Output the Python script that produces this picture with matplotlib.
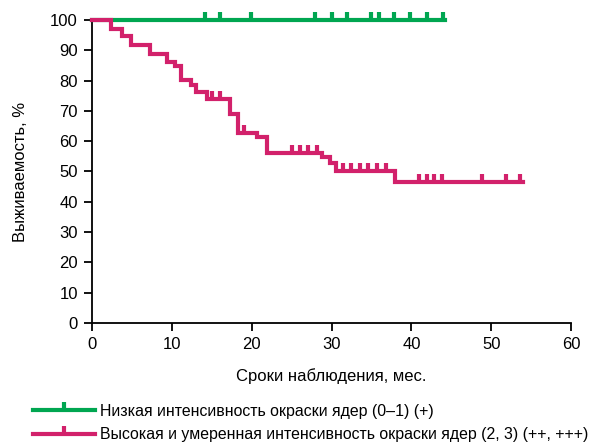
import matplotlib.pyplot as plt
import numpy as np

from   matplotlib.lines import Line2D

plt.rcParams["font.family"] = ["Liberation Sans", "DejaVu Sans"]

GREEN = "#00a651"
PINK  = "#d2216b"

# Низкая интенсивность: no events, only censored cases
low_times  = [0, 44.2]
low_levels = [100, 100]
low_cens   = [14.2, 16.1, 19.9, 27.9, 30.0, 31.9, 34.9, 36.0, 37.8, 39.8, 41.9, 43.9]

# Высокая и умеренная интенсивность: step times and survival after each step
high_times  = [0, 2.4, 3.8, 4.9, 7.3, 9.4, 10.4, 11.2, 12.4, 13.1, 14.4,
               17.3, 18.3, 20.7, 21.9, 28.8, 29.8, 30.6, 38.0]
high_levels = [100, 97.1, 94.8, 91.8, 88.8, 86.0, 84.8, 80.2, 78.4, 76.3, 73.8,
               69.1, 62.6, 61.4, 56.0, 54.8, 52.9, 50.0, 46.4]
high_end    = 54.0
high_cens   = [15.0, 16.1, 19.1, 25.0, 26.1, 27.1, 28.2,
               31.5, 32.5, 33.6, 34.6, 35.7, 36.8,
               40.9, 41.9, 42.8, 43.8, 48.8, 51.8, 53.6]

LABELS = [
    "Низкая интенсивность окраски ядер (0–1) (+)",
    "Высокая и умеренная интенсивность окраски ядер (2, 3) (++, +++)",
]

X_TICKS = [0, 10, 20, 30, 40, 50, 60]
Y_TICKS = [0, 10, 20, 30, 40, 50, 60, 70, 80, 90, 100]

LW = 3.0


def main() -> None:
    fig = plt.figure(figsize=[6.0, 4.46], dpi=100)
    axes = fig.add_axes([0.153, 0.276, 0.799, 0.679])

    draw_curve(axes, low_times, low_levels, low_times[-1], low_cens, GREEN)
    draw_curve(axes, high_times, high_levels, high_end, high_cens, PINK)

    setup_axes(axes)

    handles = [
        Line2D([], [], color=c, lw=LW, marker=2, markersize=6, markeredgewidth=3)
        for c in (GREEN, PINK)
    ]
    fig.legend(handles, LABELS, loc="upper left", bbox_to_anchor=(0.055, 0.095),
               frameon=False, fontsize=11.4, handlelength=3.9, handletextpad=0.35,
               labelspacing=0.55, borderpad=0, borderaxespad=0)

    fig.savefig("out.png", dpi=100)


def step_value(times, levels, t):
    idx = np.searchsorted(times, t, side="right") - 1
    return np.array(levels)[idx]


def draw_curve(axes, times, levels, end, cens, color) -> None:
    xs = list(times) + [end]
    ys = list(levels) + [levels[-1]]
    axes.step(xs, ys, where="post", color=color, lw=LW, clip_on=False,
              solid_joinstyle="miter", zorder=3)
    axes.plot(cens, step_value(times, levels, cens), linestyle="none",
              marker=2, markersize=6, markeredgewidth=3, color=color,
              clip_on=False, zorder=3)


def setup_axes(axes) -> None:
    axes.set_xlim(0, 60)
    axes.set_ylim(0, 100)
    axes.set_xticks(X_TICKS)
    axes.set_yticks(Y_TICKS)
    axes.spines["top"].set_visible(False)
    axes.spines["right"].set_visible(False)
    for s in ("left", "bottom"):
        axes.spines[s].set_linewidth(1.3)
    axes.tick_params(direction="out", length=6, width=1.3, labelsize=12, pad=4)
    axes.set_xlabel("Сроки наблюдения, мес.", fontsize=12, labelpad=12)
    axes.set_ylabel("Выживаемость, %", fontsize=12, labelpad=16)


if __name__ == '__main__':
    main()
